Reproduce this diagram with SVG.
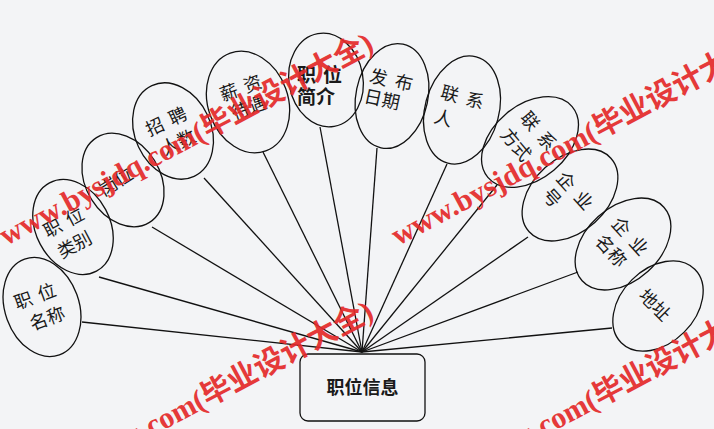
<svg xmlns="http://www.w3.org/2000/svg" width="714" height="429" viewBox="0 0 714 429">
<style>
.bg{fill:#f3f4f6}
.node ellipse,.node rect{fill:none;stroke:#111;stroke-width:1.3}
.node text{font-family:"Noto Sans CJK SC",sans-serif;font-size:18px;fill:#1a1a1a}
.node text.m{text-anchor:middle}
.bold text{font-weight:bold}
#connectors line{stroke:#111;stroke-width:1.3}
.wm{font-family:"Liberation Serif","Noto Sans CJK SC",serif;font-weight:bold;font-size:30px;fill:#e42a2a;opacity:0.92}
</style>
<rect class="bg" x="0" y="0" width="714" height="429"/>
<g id="connectors">
<line x1="362" y1="352" x2="82" y2="322"/>
<line x1="362" y1="352" x2="99" y2="277"/>
<line x1="362" y1="352" x2="152" y2="227"/>
<line x1="362" y1="352" x2="204" y2="178"/>
<line x1="362" y1="352" x2="263" y2="152"/>
<line x1="362" y1="352" x2="320" y2="127"/>
<line x1="362" y1="352" x2="377" y2="148"/>
<line x1="362" y1="352" x2="447" y2="164"/>
<line x1="362" y1="352" x2="497" y2="185"/>
<line x1="362" y1="352" x2="528" y2="237"/>
<line x1="362" y1="352" x2="578" y2="272"/>
<line x1="362" y1="352" x2="612" y2="328"/>
</g>
<g id="n1" class="node" transform="translate(42,307) rotate(-20)">
<ellipse cx="0" cy="0" rx="37" ry="51"/>
<text class="m" x="-3" y="-6">职<tspan dx="7">位</tspan></text>
<text class="m" x="1" y="19">名称</text>
</g>
<g id="n2" class="node" transform="translate(73,227) rotate(-28)">
<ellipse cx="0" cy="0" rx="37" ry="50"/>
<text class="m" x="-6" y="-2">职<tspan dx="7">位</tspan></text>
<text class="m" x="-7" y="23">类别</text>
</g>
<g id="n3" class="node" transform="translate(123,180) rotate(-32)">
<ellipse cx="0" cy="0" rx="37" ry="50"/>
<text class="m" x="-7" y="4">岗位</text>
</g>
<g id="n4" class="node" transform="translate(173,131) rotate(-25)">
<ellipse cx="0" cy="0" rx="38" ry="50"/>
<text class="m" x="-2" y="-5">招<tspan dx="7">聘</tspan></text>
<text class="m" x="0" y="19">人数</text>
</g>
<g id="n5" class="node" transform="translate(248,102) rotate(-20)">
<ellipse cx="0" cy="0" rx="40" ry="52"/>
<text class="m" x="-2" y="-9">薪<tspan dx="7">资</tspan></text>
<text class="m" x="-1" y="12">待遇</text>
</g>
<g id="n6" class="node bold">
<ellipse cx="326" cy="80" rx="37" ry="47" transform="rotate(-10 326 80)"/>
<text x="297" y="82" style="font-size:19px">职<tspan dx="7">位</tspan></text>
<text x="297" y="104" style="font-size:19px">简介</text>
</g>
<g id="n7" class="node" transform="translate(392,96) rotate(12)">
<ellipse cx="0" cy="0" rx="36" ry="53"/>
<text x="-26" y="-9">发<tspan dx="8">布</tspan></text>
<text x="-27" y="12">日期</text>
</g>
<g id="n8" class="node" transform="translate(462,110) rotate(15)">
<ellipse cx="0" cy="0" rx="37" ry="55"/>
<text x="-25" y="-6">联<tspan dx="8">系</tspan></text>
<text x="-25" y="19">人</text>
</g>
<g id="n9" class="node" transform="translate(530,142) rotate(50)">
<ellipse cx="0" cy="0" rx="37" ry="55"/>
<text x="-25" y="-7">联<tspan dx="8">系</tspan></text>
<text x="-25" y="19">方式</text>
</g>
<g id="n10" class="node" transform="translate(570,195) rotate(48)">
<ellipse cx="0" cy="0" rx="37" ry="55"/>
<text x="-22" y="0">企<tspan dx="8">业</tspan></text>
<text x="-19" y="22">号</text>
</g>
<g id="n11" class="node" transform="translate(623,244) rotate(48)">
<ellipse cx="0" cy="0" rx="37" ry="55"/>
<text x="-23" y="-4">企<tspan dx="8">业</tspan></text>
<text x="-21" y="20">名称</text>
</g>
<g id="n12" class="node" transform="translate(658,306) rotate(45)">
<ellipse cx="0" cy="0" rx="37" ry="52"/>
<text class="m" x="-3" y="8">地址</text>
</g>
<g id="hub" class="node bold">
<rect x="300" y="354" width="125" height="67" rx="8"/>
<text class="m" x="362.5" y="394">职位信息</text>
</g>
<g id="watermark">
<text class="wm" transform="translate(6,246) rotate(-28)">www.bysjdq.com(毕业设计大全)</text>
<text class="wm" transform="translate(398,246) rotate(-28)">www.bysjdq.com(毕业设计大全)</text>
<text class="wm" transform="translate(6,514) rotate(-28)">www.bysjdq.com(毕业设计大全)</text>
<text class="wm" transform="translate(398,514) rotate(-28)">www.bysjdq.com(毕业设计大全)</text>
</g>
</svg>
